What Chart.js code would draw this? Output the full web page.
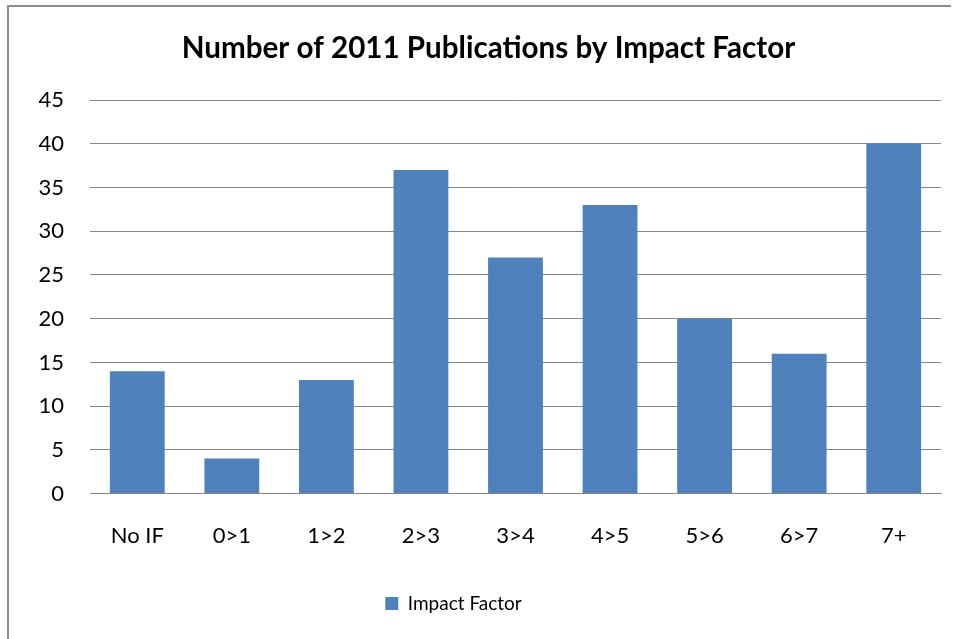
<!DOCTYPE html>
<html>
<head>
<meta charset="utf-8">
<title>Number of 2011 Publications by Impact Factor</title>
<script src="https://cdn.jsdelivr.net/npm/chart.js@4/dist/chart.umd.min.js"></script>
<style>
    html, body {
        margin: 0;
        padding: 0;
        background: #fff;
        overflow: hidden;
    }
    .frame {
        position: absolute;
        left: 7px;
        top: 5px;
        width: 942px;
        height: 640px;
        border-left: 2px solid #8c8c8c;
        border-top: 2px solid #8c8c8c;
    }
    .chart-wrap {
        position: absolute;
        left: 0;
        top: 0;
        width: 957px;
        height: 639px;
    }
</style>
</head>
<body>
<div class="frame"></div>
<div class="chart-wrap">
    <canvas id="impactChart"></canvas>
</div>
<script>
// Chart data
const categories = ['No IF', '0>1', '1>2', '2>3', '3>4', '4>5', '5>6', '6>7', '7+'];
const publications = [14, 4, 13, 37, 27, 33, 20, 16, 40];
const seriesName = 'Impact Factor';
const yMin = 0;
const yMax = 45;
const yStep = 5;

// Excel puts the title a bit right of centre and the legend a bit left
const boxShift = {
    id: 'boxShift',
    afterLayout(chart) {
        if (chart.titleBlock) {
            chart.titleBlock.left += 18;
            chart.titleBlock.right += 18;
        }
        if (chart.legend) {
            chart.legend.left -= 17;
            chart.legend.right -= 17;
        }
    }
};

function createImpactChart() {
    const canvas = document.getElementById('impactChart');
    if (!canvas) return;

    const ctx = canvas.getContext('2d');

    new Chart(ctx, {
        type: 'bar',
        data: {
            labels: categories,
            datasets: [{
                label: seriesName,
                data: publications,
                backgroundColor: '#4f81bd',
                borderWidth: 0,
                categoryPercentage: 1,
                barPercentage: 0.58
            }]
        },
        plugins: [boxShift],
        options: {
            responsive: true,
            maintainAspectRatio: false,
            animation: false,
            layout: {
                padding: {
                    left: 0,
                    right: 16,
                    top: 0,
                    bottom: 16
                }
            },
            plugins: {
                title: {
                    display: true,
                    text: 'Number of 2011 Publications by Impact Factor',
                    color: '#000',
                    font: {
                        family: 'Lato',
                        size: 29.6,
                        weight: 'bold'
                    },
                    padding: {
                        top: 31,
                        bottom: 33.5
                    }
                },
                legend: {
                    display: true,
                    position: 'bottom',
                    labels: {
                        color: '#000',
                        boxWidth: 13,
                        boxHeight: 13,
                        padding: 6,
                        font: {
                            family: 'Lato',
                            size: 19
                        }
                    }
                },
                tooltip: {
                    enabled: false
                }
            },
            scales: {
                y: {
                    min: yMin,
                    max: yMax,
                    ticks: {
                        stepSize: yStep,
                        padding: 26,
                        color: '#000',
                        font: {
                            family: 'Lato',
                            size: 22
                        }
                    },
                    grid: {
                        color: '#868686',
                        lineWidth: 1,
                        drawTicks: false
                    },
                    border: {
                        display: false
                    },
                    afterFit: function(scale) {
                        scale.width = 90;
                    }
                },
                x: {
                    ticks: {
                        padding: 29,
                        color: '#000',
                        font: {
                            family: 'Lato',
                            size: 22
                        }
                    },
                    grid: {
                        display: false,
                        drawTicks: false
                    },
                    border: {
                        display: true,
                        color: '#868686',
                        width: 1
                    },
                    afterFit: function(scale) {
                        scale.height += 10;
                    }
                }
            }
        }
    });
}

document.addEventListener('DOMContentLoaded', () => {
    createImpactChart();
});
</script>
</body>
</html>
